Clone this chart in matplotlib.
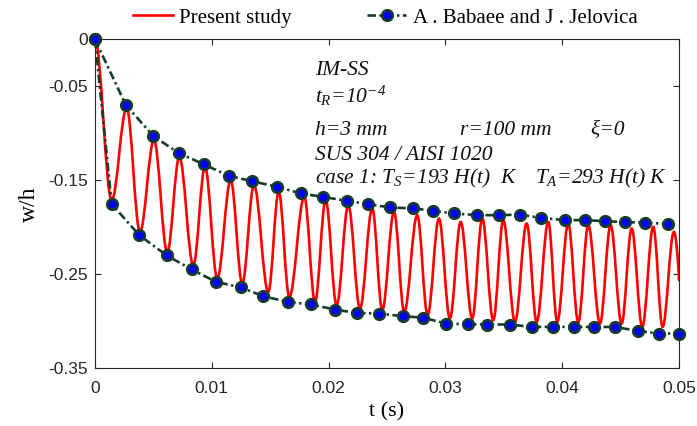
import matplotlib
matplotlib.use("Agg")
import matplotlib.pyplot as plt
from matplotlib.path import Path
from matplotlib.patches import PathPatch
from matplotlib.lines import Line2D
import numpy as np

# ---------------- data ----------------
# Present study: extrema of the oscillating response (start, trough, peak, ..., end)
red_t = [0.0, 0.00143, 0.00271, 0.00385, 0.00505, 0.00619, 0.00722, 0.00842, 0.00942,
         0.01047, 0.01162, 0.01261, 0.01361, 0.01484, 0.01573, 0.01664, 0.01792,
         0.01884, 0.01975, 0.02069, 0.02169, 0.02269, 0.02374, 0.02460, 0.02560,
         0.02648, 0.02759, 0.02848, 0.02945, 0.03039, 0.03131, 0.03230, 0.03316,
         0.03410, 0.03496, 0.03596, 0.03696, 0.03782, 0.03881, 0.03958, 0.04052,
         0.04138, 0.04224, 0.04324, 0.04415, 0.04509, 0.04595, 0.04686, 0.04780,
         0.04860, 0.04957, 0.05000]
red_w = [0.0, -0.1710, -0.0730, -0.2048, -0.1071, -0.2261, -0.1249, -0.2403, -0.1355,
         -0.2544, -0.1497, -0.2597, -0.1550, -0.2687, -0.1622, -0.2740, -0.1675,
         -0.2793, -0.1710, -0.2829, -0.1763, -0.2864, -0.1798, -0.2882, -0.1835,
         -0.2900, -0.1870, -0.2935, -0.1905, -0.2970, -0.1941, -0.2970, -0.1905,
         -0.2989, -0.1923, -0.3007, -0.1958, -0.3007, -0.1941, -0.3007, -0.1958,
         -0.3007, -0.1976, -0.3024, -0.1976, -0.3024, -0.2012, -0.3060, -0.1994,
         -0.3060, -0.2048, -0.2562]

# A. Babaee and J. Jelovica: upper envelope
up_t = [0.0, 0.00263, 0.00499, 0.00717, 0.00933, 0.01145, 0.01344, 0.01558, 0.01761,
        0.01949, 0.02155, 0.02340, 0.02526, 0.02725, 0.02896, 0.03076, 0.03271,
        0.03462, 0.03639, 0.03816, 0.04024, 0.04193, 0.04366, 0.04538, 0.04713, 0.04903]
up_w = [0.0, -0.0695, -0.1028, -0.1209, -0.1330, -0.1451, -0.1508, -0.1568, -0.1639,
        -0.1675, -0.1717, -0.1753, -0.1788, -0.1798, -0.1824, -0.1852, -0.1870,
        -0.1870, -0.1864, -0.1899, -0.1923, -0.1923, -0.1934, -0.1944, -0.1950, -0.1963]

# A. Babaee and J. Jelovica: lower envelope
lo_t = [0.0, 0.00143, 0.00379, 0.00614, 0.00828, 0.01036, 0.01250, 0.01441, 0.01655,
        0.01847, 0.02055, 0.02241, 0.02434, 0.02634, 0.02806, 0.03005, 0.03196,
        0.03360, 0.03553, 0.03739, 0.03919, 0.04101, 0.04275, 0.04452, 0.04652,
        0.04829, 0.05000]
lo_w = [0.0, -0.1753, -0.2083, -0.2299, -0.2448, -0.2580, -0.2640, -0.2733, -0.2794,
        -0.2821, -0.2875, -0.2911, -0.2917, -0.2946, -0.2960, -0.3024, -0.3031,
        -0.3034, -0.3034, -0.3060, -0.3060, -0.3060, -0.3060, -0.3060, -0.3103,
        -0.3130, -0.3130]

x_ticks = [0, 0.01, 0.02, 0.03, 0.04, 0.05]
x_labels = ["0", "0.01", "0.02", "0.03", "0.04", "0.05"]
y_ticks = [0, -0.05, -0.15, -0.25, -0.35]
y_labels = ["0", "-0.05", "-0.15", "-0.25", "-0.35"]

# ---------------- style ----------------
plt.rcParams['axes.unicode_minus'] = False
plt.rcParams['mathtext.fontset'] = 'custom'
plt.rcParams['mathtext.it'] = 'Liberation Serif:italic'
plt.rcParams['mathtext.rm'] = 'Liberation Serif:italic'
plt.rcParams['mathtext.cal'] = 'Liberation Serif:italic'

DG = '#163d28'
AXC = '#262626'

fig = plt.figure(figsize=(6.97, 4.26), dpi=100)
ax = fig.add_axes([0.1363, 0.1355, 0.8378, 0.7718])

# red smooth curve through extrema (cubic Bezier with horizontal tangents at extrema)
verts = [(red_t[0], red_w[0])]
codes = [Path.MOVETO]
k = 0.3642
n = len(red_t)
for i in range(n - 1):
    t0, w0 = red_t[i], red_w[i]
    t1, w1 = red_t[i + 1], red_w[i + 1]
    dt = t1 - t0
    c1 = (t0 + k * dt, w0)
    if i == n - 2:
        c2 = (t1 - 0.15 * dt, w1 + 0.45 * (w0 - w1))
    else:
        c2 = (t1 - k * dt, w1)
    verts += [c1, c2, (t1, w1)]
    codes += [Path.CURVE4, Path.CURVE4, Path.CURVE4]
red_patch = PathPatch(Path(verts, codes), facecolor='none', edgecolor='#ff0000',
                      lw=1.9, zorder=2, capstyle='round', joinstyle='round')
ax.add_patch(red_patch)

dash = (0, (3.2, 1.3, 0.9, 1.3))
mk = dict(marker='o', markersize=7.6, markerfacecolor='#0000ff',
          markeredgecolor=DG, markeredgewidth=1.9)
ax.plot(up_t, up_w, color=DG, lw=1.9, linestyle=dash, zorder=3, clip_on=False, **mk)
ax.plot(lo_t, lo_w, color=DG, lw=1.9, linestyle=dash, zorder=3, clip_on=False, **mk)

ax.set_xlim(0, 0.05)
ax.set_ylim(-0.35, 0)
ax.set_xticks(x_ticks)
ax.set_xticklabels(x_labels)
ax.set_yticks(y_ticks)
ax.set_yticklabels(y_labels)
ax.tick_params(direction='in', top=True, right=True, length=4, width=0.8,
               colors=AXC, labelsize=12.5, pad=5)
ax.tick_params(axis='x', pad=9)
for lab in ax.get_xticklabels() + ax.get_yticklabels():
    lab.set_family('Liberation Sans')
for s in ax.spines.values():
    s.set_color(AXC)
    s.set_linewidth(0.8)

ax.set_xlabel('t (s)', family='Liberation Serif', fontsize=16, labelpad=5)
ax.set_ylabel('w/h', family='Liberation Serif', fontsize=17, labelpad=6)

# annotation text
tk = dict(transform=ax.transAxes, family='Liberation Serif', style='italic',
          fontsize=15.5, va='baseline', ha='left', color='#111111')
ax.text(0.377, 0.892, 'IM-SS', **tk)
ax.text(0.377, 0.806, r'$t_R$=10$^{-4}$', **tk)
ax.text(0.377, 0.7096, 'h=3 mm', **tk)
ax.text(0.625, 0.7096, 'r=100 mm', **tk)
ax.text(0.848, 0.7096, 'ξ=0', **tk)
ax.text(0.377, 0.633, 'SUS 304 / AISI 1020', **tk)
ax.text(0.377, 0.5608, r'case 1: $T_S$=193 $H$(t)  K', **tk)
ax.text(0.753, 0.5608, r'$T_A$=293 $H$(t) K', **tk)

# legend
h1 = Line2D([], [], color='#ff0000', lw=1.9)
h2 = Line2D([], [], color=DG, lw=1.9, linestyle=dash, **mk)
fig.legend([h1, h2], ['Present study', 'A . Babaee and J . Jelovica'],
           loc='center', bbox_to_anchor=(0.553, 0.958), ncol=2, frameon=False,
           prop={'family': 'Liberation Serif', 'size': 15},
           handlelength=1.9, columnspacing=3.6, handletextpad=0.3)

fig.savefig('out.png', dpi=100)
